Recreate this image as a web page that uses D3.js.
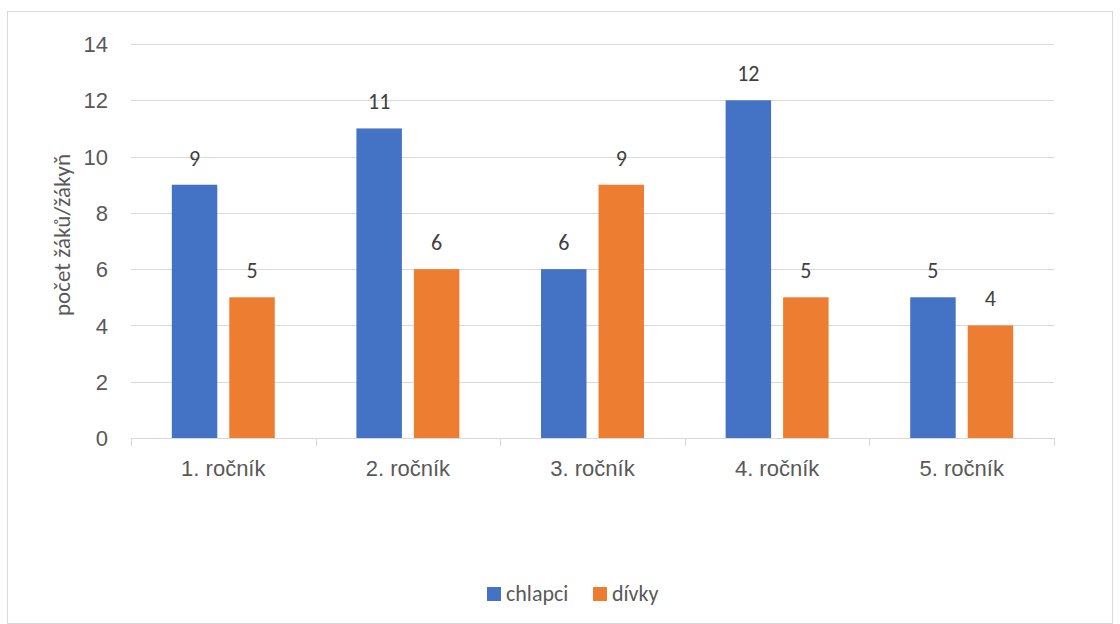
<!DOCTYPE html>
<html>
<head>
<meta charset="utf-8">
<script src="https://cdn.jsdelivr.net/npm/d3@7"></script>
<style>
  html, body { margin: 0; padding: 0; background: #fff; }
  svg { display: block; font-family: Carlito, Calibri, Lato, "Open Sans", sans-serif; }
</style>
</head>
<body>
<svg id="chart" width="1120" height="624"></svg>
<script>
// Počet žáků a žákyň podle ročníku
const categories = ["1. ročník", "2. ročník", "3. ročník", "4. ročník", "5. ročník"];
const seriesNames = ["chlapci", "dívky"];
const chlapci = [9, 11, 6, 12, 5];
const divky = [5, 6, 9, 5, 4];
const yTicks = [0, 2, 4, 6, 8, 10, 12, 14];
const yTitle = "počet žáků/žákyň";

const colors = { "chlapci": "#4472C4", "dívky": "#ED7D31" };
const series = [chlapci, divky];

const svg = d3.select("#chart");
const W = 1120, H = 624;
const m = { left: 131, right: 1054, top: 44, bottom: 438 };
const FS = 22;

// outer frame
svg.append("rect")
  .attr("x", 7.5).attr("y", 11.5)
  .attr("width", W - 15).attr("height", H - 12)
  .attr("fill", "#fff").attr("stroke", "#D9D9D9").attr("stroke-width", 1);

const x0 = d3.scaleBand().domain(categories).range([m.left, m.right]).paddingInner(0).paddingOuter(0);
const x1 = d3.scaleBand().domain(seriesNames).range([0, x0.bandwidth()]).paddingInner(0.209).paddingOuter(0.71);
const y = d3.scaleLinear().domain([0, 14]).range([m.bottom, m.top]);

// gridlines
svg.append("g")
  .selectAll("line")
  .data(yTicks.filter(d => d > 0))
  .join("line")
  .attr("x1", m.left).attr("x2", m.right)
  .attr("y1", d => Math.round(y(d)) + 0.5).attr("y2", d => Math.round(y(d)) + 0.5)
  .attr("stroke", "#D9D9D9").attr("stroke-width", 1);

// y axis labels
const yAxis = d3.axisLeft(y).tickValues(yTicks).tickSize(0).tickPadding(0).tickFormat(d3.format("d"));
const gy = svg.append("g").attr("transform", `translate(${m.left - 23},0)`).call(yAxis);
gy.select(".domain").remove();
gy.selectAll("text").attr("fill", "#595959").attr("font-size", FS).attr("dy", "0.35em");

// bars
const groups = svg.append("g")
  .selectAll("g")
  .data(categories)
  .join("g")
  .attr("transform", d => `translate(${x0(d)},0)`);

groups.selectAll("rect")
  .data((d, i) => seriesNames.map((s, k) => ({ s, v: series[k][i] })))
  .join("rect")
  .attr("x", d => x1(d.s))
  .attr("width", x1.bandwidth())
  .attr("y", d => y(d.v))
  .attr("height", d => y(0) - y(d.v))
  .attr("fill", d => colors[d.s]);

// value labels
groups.selectAll("text")
  .data((d, i) => seriesNames.map((s, k) => ({ s, v: series[k][i] })))
  .join("text")
  .attr("x", d => x1(d.s) + x1.bandwidth() / 2)
  .attr("y", d => y(d.v) - 19)
  .attr("text-anchor", "middle")
  .attr("fill", "#404040")
  .attr("font-size", FS)
  .text(d => d.v);

// x axis
const xAxis = d3.axisBottom(x0).tickSize(0).tickPadding(0);
const gx = svg.append("g").attr("transform", `translate(0,${m.bottom})`).call(xAxis);
gx.select(".domain").remove();
gx.selectAll("text").attr("fill", "#595959").attr("font-size", FS).attr("dy", "0").attr("y", 38);
svg.append("line")
  .attr("x1", m.left).attr("x2", m.right)
  .attr("y1", m.bottom + 0.5).attr("y2", m.bottom + 0.5)
  .attr("stroke", "#D9D9D9").attr("stroke-width", 1.2);
// category separator ticks
const sepX = categories.map(c => x0(c)).concat([m.right]);
svg.append("g").selectAll("line")
  .data(sepX)
  .join("line")
  .attr("x1", d => Math.round(d) + 0.5).attr("x2", d => Math.round(d) + 0.5)
  .attr("y1", m.bottom).attr("y2", m.bottom + 8)
  .attr("stroke", "#D9D9D9").attr("stroke-width", 1.2);

// y axis title
svg.append("text")
  .attr("transform", `translate(70,235) rotate(-90)`)
  .attr("text-anchor", "middle")
  .attr("fill", "#595959")
  .attr("font-size", 23)
  .text(yTitle);

// legend
const legend = svg.append("g").attr("transform", "translate(487,587)");
const legendX = [0, 106];
seriesNames.forEach((s, i) => {
  const g = legend.append("g").attr("transform", `translate(${legendX[i]},0)`);
  g.append("rect").attr("width", 14).attr("height", 14).attr("fill", colors[s]);
  g.append("text").attr("x", 19).attr("y", 14).attr("fill", "#595959").attr("font-size", FS).text(s);
});
</script>
</body>
</html>
